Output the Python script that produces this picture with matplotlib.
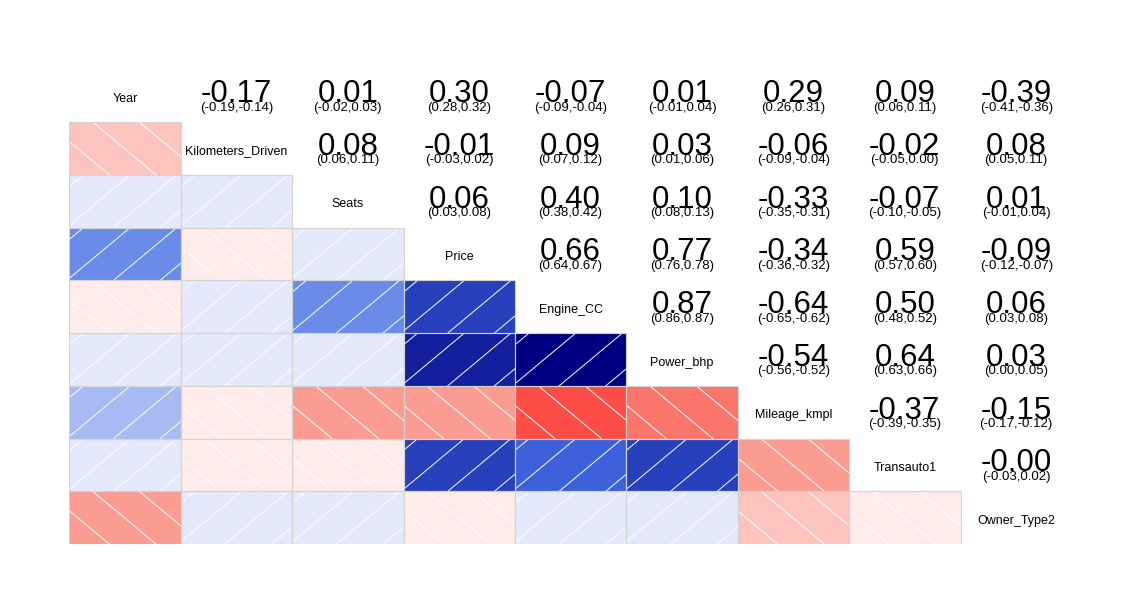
import numpy as np
import matplotlib
matplotlib.use('Agg')
import matplotlib.pyplot as plt
import matplotlib.colors as mplc
from matplotlib.patches import Rectangle

plt.rcParams['font.family'] = ['Liberation Sans', 'DejaVu Sans']

labels = ['Year', 'Kilometers_Driven', 'Seats', 'Price', 'Engine_CC',
          'Power_bhp', 'Mileage_kmpl', 'Transauto1', 'Owner_Type2']

# upper triangle, row by row: correlation, lower CI, upper CI
r_year = [-0.17, 0.01, 0.30, -0.07, 0.01, 0.2855, 0.09, -0.39]
lo_year = [-0.19, -0.02, 0.28, -0.09, -0.01, 0.26, 0.06, -0.41]
hi_year = [-0.14, 0.03, 0.32, -0.04, 0.04, 0.31, 0.11, -0.36]

r_km = [0.08, -0.01, 0.09, 0.03, -0.06, -0.02, 0.08]
lo_km = [0.06, -0.03, 0.07, 0.01, -0.09, -0.05, 0.05]
hi_km = [0.11, 0.02, 0.12, 0.06, -0.04, 0.00, 0.11]

r_seats = [0.06, 0.40, 0.10, -0.33, -0.07, 0.01]
lo_seats = [0.03, 0.38, 0.08, -0.35, -0.10, -0.01]
hi_seats = [0.08, 0.42, 0.13, -0.31, -0.05, 0.04]

r_price = [0.66, 0.77, -0.34, 0.59, -0.09]
lo_price = [0.64, 0.76, -0.36, 0.57, -0.12]
hi_price = [0.67, 0.78, -0.32, 0.60, -0.07]

r_engine = [0.87, -0.64, 0.50, 0.06]
lo_engine = [0.86, -0.65, 0.48, 0.03]
hi_engine = [0.87, -0.62, 0.52, 0.08]

r_power = [-0.54, 0.64, 0.03]
lo_power = [-0.56, 0.63, 0.00]
hi_power = [-0.52, 0.66, 0.05]

r_mileage = [-0.37, -0.15]
lo_mileage = [-0.39, -0.17]
hi_mileage = [-0.35, -0.12]

r_trans = [-0.001]
lo_trans = [-0.03]
hi_trans = [0.02]

r_rows = [r_year, r_km, r_seats, r_price, r_engine, r_power, r_mileage, r_trans]
lo_rows = [lo_year, lo_km, lo_seats, lo_price, lo_engine, lo_power, lo_mileage, lo_trans]
hi_rows = [hi_year, hi_km, hi_seats, hi_price, hi_engine, hi_power, hi_mileage, hi_trans]

n = len(labels)
R = np.eye(n)
LO = np.eye(n)
HI = np.eye(n)
for i in range(n - 1):
    for k, j in enumerate(range(i + 1, n)):
        R[i, j] = R[j, i] = r_rows[i][k]
        LO[i, j] = LO[j, i] = lo_rows[i][k]
        HI[i, j] = HI[j, i] = hi_rows[i][k]

# corrgram style palette: 14 bins red-salmon-white-royalblue-navy
ramp = mplc.LinearSegmentedColormap.from_list(
    'cg', ['red', 'salmon', 'white', 'royalblue', 'navy'])
ncol = 14
pal = [ramp(i / (ncol - 1)) for i in range(ncol)]
breaks = np.linspace(-1, 1, ncol + 1)

def shade_color(v):
    idx = np.searchsorted(breaks, v, side='left') - 1
    idx = min(max(idx, 0), ncol - 1)
    return pal[idx]

fig = plt.figure(figsize=(11.41, 6.14), dpi=100)
ax = fig.add_axes([69.3 / 1141, 1 - 544 / 614, 1002.6 / 1141, 474.75 / 614])
ax.set_xlim(0, n)
ax.set_ylim(n, 0)
ax.axis('off')

slant = 0.568   # horizontal shift of a hatch line over one cell height
step = 0.419    # spacing of hatch lines

for i in range(n):
    for j in range(n):
        if i == j:
            ax.text(j + 0.5, i + 0.56, labels[i], ha='center', va='center',
                    fontsize=9)
        elif i > j:
            v = R[i, j]
            rect = Rectangle((j, i), 1, 1, facecolor=shade_color(v),
                             edgecolor='none', zorder=1)
            ax.add_patch(rect)
            clip = Rectangle((j, i), 1, 1, transform=ax.transData)
            for k in range(-3, 4):
                if v > 0:
                    b = 0.398 + step * k
                    xs = [j + b, j + b + slant]
                else:
                    t = 0.209 + step * k
                    xs = [j + t + slant, j + t]
                ln, = ax.plot(xs, [i + 1, i], color='white', lw=0.7, zorder=2)
                ln.set_clip_path(clip)
            ax.add_patch(Rectangle((j, i), 1, 1, facecolor='none',
                                   edgecolor='lightgray', lw=0.8, zorder=3))
        else:
            ax.text(j + 0.5, i + 0.625, '%.2f' % R[i, j], ha='center',
                    va='baseline', fontsize=22.5, zorder=4)
            ax.text(j + 0.5, i + 0.785, '(%.2f,%.2f)' % (LO[i, j], HI[i, j]),
                    ha='center', va='baseline', fontsize=9.5, zorder=5)

plt.savefig('out.png', dpi=100)
plt.close()
